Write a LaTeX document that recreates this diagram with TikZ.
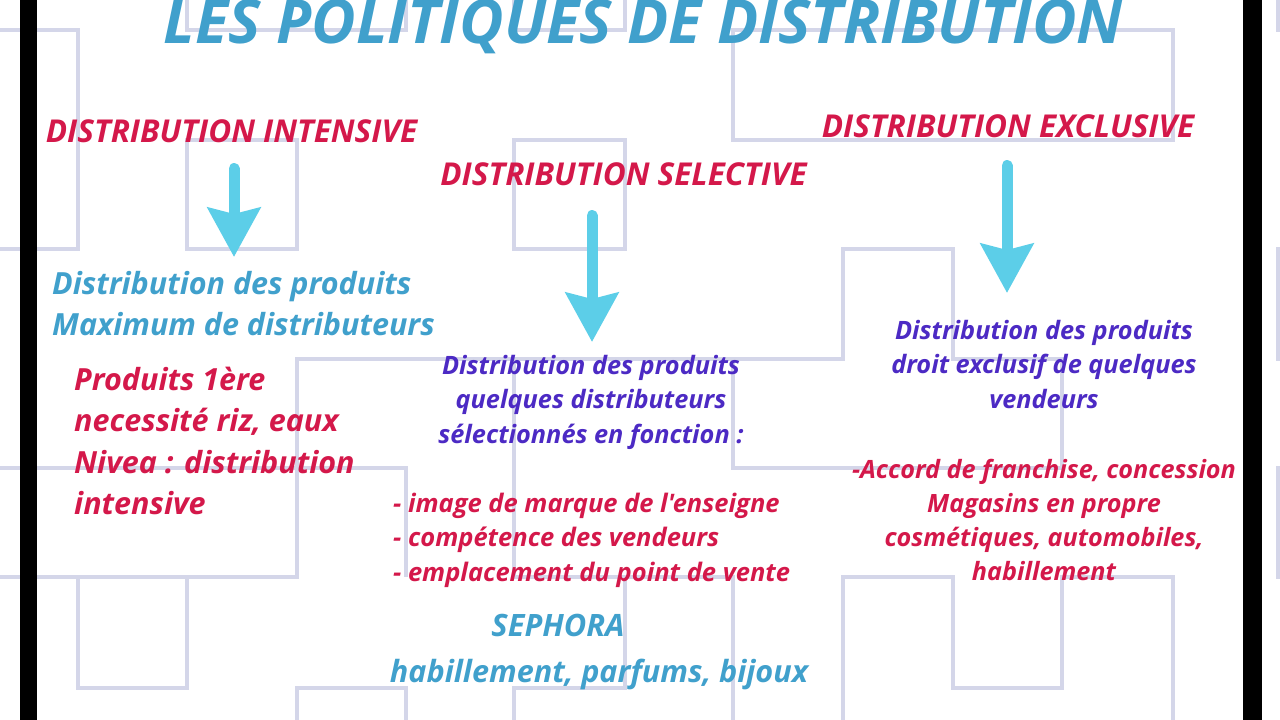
\documentclass[tikz,border=0pt]{standalone}
\usepackage{fontspec}
\setmainfont{Open Sans}[Ligatures=TeXOff]
\usepackage{tikz}
\usetikzlibrary{arrows.meta}
\definecolor{titleblue}{RGB}{64,160,204}
\definecolor{headred}{RGB}{212,24,74}
\definecolor{notepurple}{RGB}{76,42,196}
\definecolor{arrowcyan}{RGB}{92,206,232}
\definecolor{mazegrey}{RGB}{212,214,233}
\newcommand{\bi}[2]{\fontsize{#1}{#2}\selectfont\bfseries\itshape}

\begin{document}
\begin{tikzpicture}[x=1pt,y=-1pt,
	maze/.style={draw=mazegrey,line width=4.5pt},
	heading/.style={inner sep=0pt,anchor=base,text=headred,font=\bi{31.5}{36}},
	note/.style={inner sep=0pt,align=center,anchor=north,text=notepurple,font=\bi{25.3}{34.5}},
	flow/.style={draw=arrowcyan,line width=11pt,line cap=round,-{Stealth[length=49pt,width=52pt,inset=6pt]}}]
	\useasboundingbox (0,0) rectangle (1280,720);
	\clip (0,0) rectangle (1280,720);
	\fill[white] (0,0) rectangle (1280,720);
	% maze in the background
	\path[maze] (0,30) -- (78,30) -- (78,249) -- (0,249);
	\path[maze] (187,0) -- (187,30) -- (406,30) -- (406,0);
	\path[maze] (514,0) -- (514,30) -- (625,30) -- (625,0);
	\path[maze] (733,30) rectangle (1173,140);
	\path[maze] (187,140) rectangle (297,249);
	\path[maze] (514,140) rectangle (625,249);
	\path[maze] (843,249) -- (953,249) -- (953,359) -- (1062,359) -- (1062,468) -- (733,468) -- (733,359) -- (843,359) -- cycle;
	\path[maze] (1278,0) -- (1278,30) -- (1280,30);
	\path[maze] (1280,249) -- (1278,249) -- (1278,359) -- (1280,359);
	\path[maze] (1280,468) -- (1278,468) -- (1278,577) -- (1280,577);
	\path[maze] (0,468) -- (406,468) -- (406,577);
	\path[maze] (733,359) -- (297,359) -- (297,577) -- (0,577);
	\path[maze] (78,577) -- (78,688) -- (187,688) -- (187,577);
	\path[maze] (297,720) -- (297,688) -- (406,688) -- (406,720);
	\path[maze] (514,359) -- (514,577) -- (733,577) -- (733,720);
	\path[maze] (625,577) -- (625,688) -- (514,688) -- (514,720);
	\path[maze] (843,720) -- (843,577) -- (953,577) -- (953,688) -- (1062,688) -- (1062,577) -- (1173,577) -- (1173,720);
	\fill[black] (20,0) rectangle (37,720);
	\fill[black] (1243,0) rectangle (1262,720);
	% title and the three headings
	\node[inner sep=0pt,anchor=base,text=titleblue,font=\bi{61}{70}] (title) at (643,43) {LES POLITIQUES DE DISTRIBUTION};
	\node[heading] (intensive) at (231.5,142) {DISTRIBUTION INTENSIVE};
	\node[heading] (selective) at (623.5,185) {DISTRIBUTION SELECTIVE};
	\node[heading] (exclusive) at (1008,137) {DISTRIBUTION EXCLUSIVE};
	% intensive
	\node[inner sep=0pt,align=left,anchor=north west,text=titleblue,font=\bi{30.5}{41}] (prodA) at (52,270.8) {Distribution des produits\\Maximum de distributeurs};
	\node[inner sep=0pt,align=left,anchor=north west,text=headred,font=\bi{30.5}{41.5}] (prodB) at (74,366.6) {Produits 1ère\\necessité riz, eaux\\Nivea : distribution\\intensive};
	% selective
	\node[note] (selA) at (591,354.8) {Distribution des produits\\quelques distributeurs\\sélectionnés en fonction :};
	\node[note,align=left,anchor=north west,text=headred,font=\bi{25.5}{34.7}] (selB) at (393,492.6) {- image de marque de l'enseigne\\- compétence des vendeurs\\- emplacement du point de vente};
	\node[inner sep=0pt,anchor=base,text=titleblue,font=\bi{30.8}{36}] (sephora) at (558,636) {SEPHORA};
	\node[inner sep=0pt,anchor=base,text=titleblue,font=\bi{30.6}{36}] (sectors) at (599,682) {habillement, parfums, bijoux};
	% exclusive
	\node[note] (excA) at (1044,319.8) {Distribution des produits\\droit exclusif de quelques\\vendeurs};
	\node[note,text=headred,font=\bi{25.2}{34}] (excB) at (1044,458.8) {-Accord de franchise, concession\\Magasins en propre\\cosmétiques, automobiles,\\habillement};
	% arrows
	\draw[flow,shorten <=26pt,shorten >=13.8pt] ([xshift=2.5pt]intensive.south) -- ([xshift=2.5pt]intensive.south |- prodA.north);
	\draw[flow,shorten <=30pt,shorten >=12.8pt] ([xshift=-31.5pt]selective.south) -- ([xshift=-31.5pt]selective.south |- selA.north);
	\draw[flow,shorten <=28pt,shorten >=26.8pt] ([xshift=-1pt]exclusive.south) -- ([xshift=-1pt]exclusive.south |- excA.north);
\end{tikzpicture}
\end{document}
